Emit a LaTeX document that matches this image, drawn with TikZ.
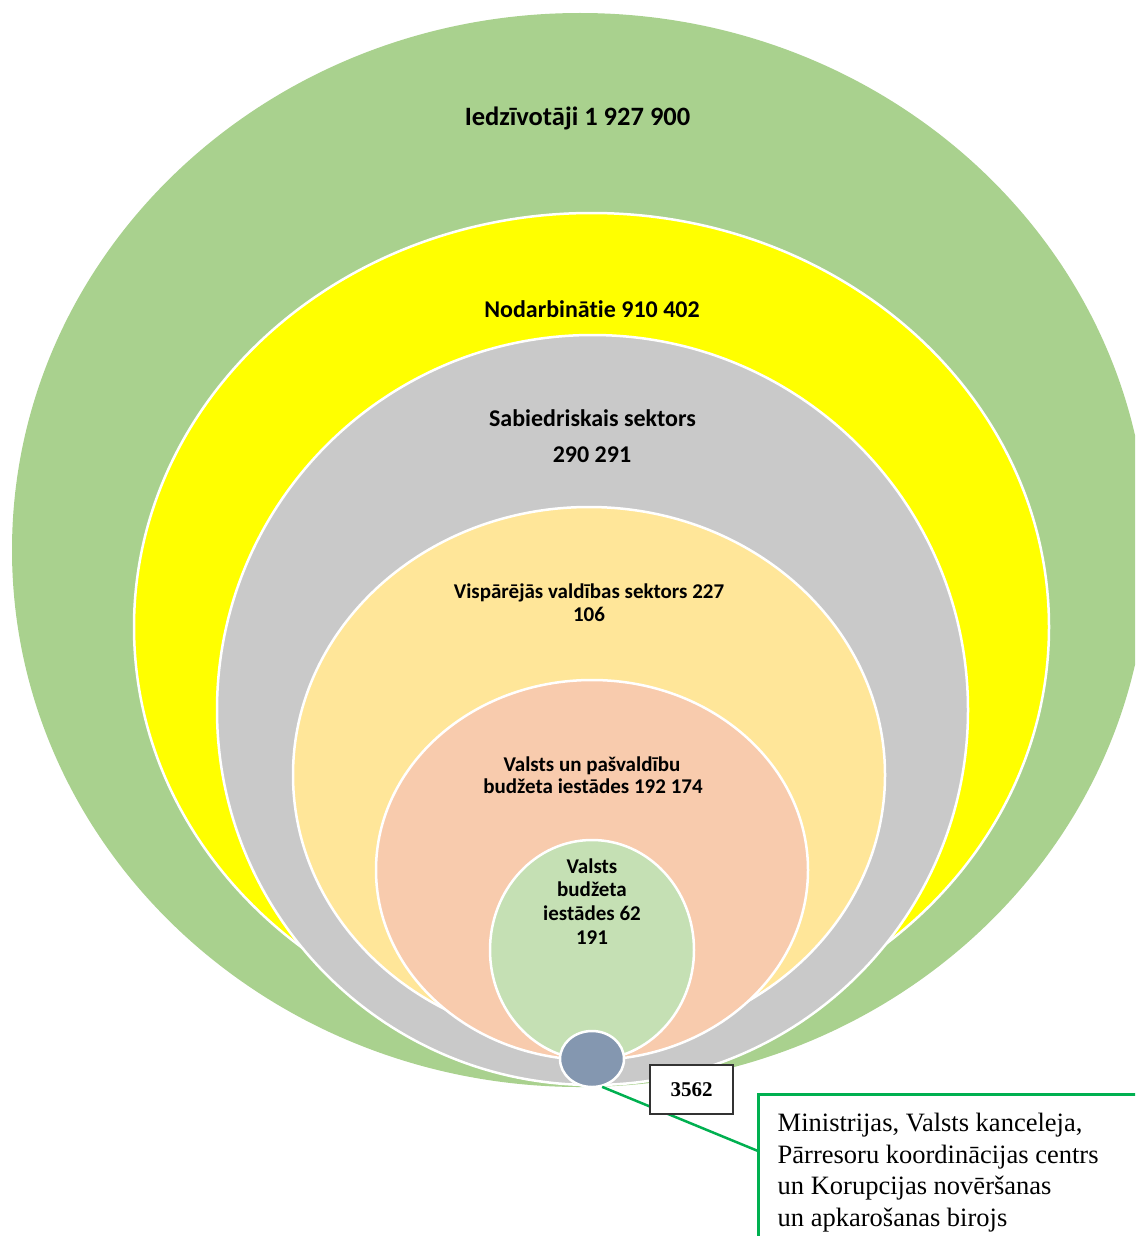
\documentclass[tikz,border=0pt]{standalone}
\usepackage{fontspec}
\setmainfont{Liberation Serif}
\newfontfamily\calib[Ligatures=NoCommon]{Carlito}
\usetikzlibrary{shapes.geometric}
\definecolor{cOuter}{HTML}{A9D18E}
\definecolor{cYellow}{HTML}{FFFF00}
\definecolor{cGray}{HTML}{C9C9C9}
\definecolor{cGold}{HTML}{FFE699}
\definecolor{cSalmon}{HTML}{F8CBAD}
\definecolor{cMint}{HTML}{C5E0B4}
\definecolor{cBlue}{HTML}{8497B0}
\definecolor{cLine}{HTML}{00B050}
\tikzset{
  ring/.style={draw=white, line width=2.5pt},
  lblbig/.style={anchor=base, inner sep=0, font=\calib\bfseries\fontsize{26.5}{30}\selectfont},
  lblmid/.style={anchor=base, inner sep=0, font=\calib\bfseries\fontsize{24}{28}\selectfont},
  lblsmall/.style={anchor=base, inner sep=0, font=\calib\bfseries\fontsize{21}{24}\selectfont}
}
\begin{document}
\begin{tikzpicture}[x=1pt,y=-1pt]
\useasboundingbox (0,0) rectangle (1135,1236);
\clip (0,0) rectangle (1135,1236);
% rings
\fill[cOuter] (580,550) ellipse [x radius=568pt, y radius=537pt];
\filldraw[fill=cYellow, ring] (591.5,627) ellipse [x radius=457.5pt, y radius=414pt];
\filldraw[fill=cGray, ring] (592.5,710) ellipse [x radius=375.5pt, y radius=375pt];
\filldraw[fill=cGold, ring] (589,775) ellipse [x radius=296pt, y radius=268pt];
\filldraw[fill=cSalmon, ring] (592,870) ellipse [x radius=216pt, y radius=190pt];
\filldraw[fill=cMint, ring] (592,950) ellipse [x radius=102pt, y radius=110pt];
\node[ellipse, fill=cBlue, ring, minimum width=64pt, minimum height=56pt, inner sep=0] (core) at (592,1059) {};
% labels
\node[lblbig] (l1) at (577.5,125) {Iedzīvotāji 1 927 900};
\node[lblmid] (l2) at (592,317) {Nodarbinātie 910 402};
\node[lblmid] (l3a) at (592.5,426.5) {Sabiedriskais sektors};
\node[lblmid] (l3b) at (592,462.5) {290 291};
\node[lblsmall] (l4a) at (589,598) {Vispārējās valdības sektors 227};
\node[lblsmall] (l4b) at (589,621) {106};
\node[lblsmall] (l5a) at (592,771.5) {Valsts un pašvaldību};
\node[lblsmall] (l5b) at (593,793.5) {budžeta iestādes 192 174};
\node[lblsmall] (l6a) at (592,873) {Valsts};
\node[lblsmall] (l6b) at (592,896) {budžeta};
\node[lblsmall] (l6c) at (592,920) {iestādes 62};
\node[lblsmall] (l6d) at (592,944) {191};
% callout
\node[draw=cLine, line width=2.5pt, fill=white, anchor=north west, minimum width=420pt, minimum height=180pt, inner sep=0] (descbox) at (757,1093) {};
\coordinate (lineend) at (758,1151);
\draw[cLine, line width=2.5pt] (core.-70) -- (lineend);
\node[draw=black!80, fill=white, line width=1.2pt, minimum width=83pt, minimum height=49pt, inner sep=0, font=\bfseries\fontsize{21}{24}\selectfont] (num) at (691.5,1089.5) {3562};
\node[anchor=north west, inner sep=0, align=left, font=\fontsize{26.5}{31.5}\selectfont] (desc) at (777.5,1113) {Ministrijas, Valsts kanceleja,\\Pārresoru koordinācijas centrs\\un Korupcijas novēršanas\\un apkarošanas birojs};
\end{tikzpicture}
\end{document}
